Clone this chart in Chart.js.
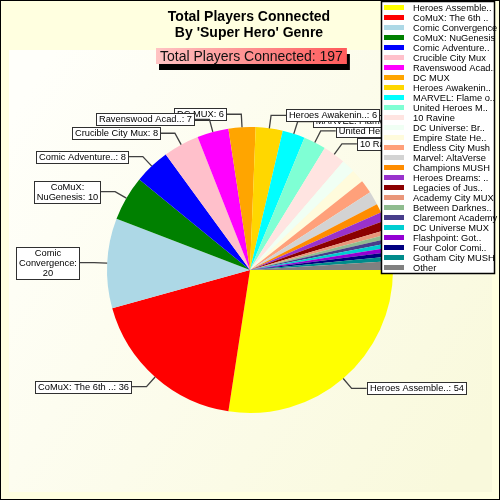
<!DOCTYPE html>
<html><head><meta charset="utf-8">
<script src="https://cdn.jsdelivr.net/npm/chart.js@4/dist/chart.umd.min.js"></script>
<style>html,body{margin:0;padding:0;background:#fff}canvas{display:block}</style>
</head><body>
<canvas id="c" width="500" height="500"></canvas>
<script>
// ---- data ----
const categories = [
  "Heroes Assemble..", "CoMuX: The 6th ..", "Comic Convergence", "CoMuX: NuGenesis",
  "Comic Adventure..", "Crucible City Mux", "Ravenswood Acad..", "DC MUX",
  "Heroes Awakenin..", "MARVEL: Flame o..", "United Heroes M..", "10 Ravine",
  "DC Universe: Br..", "Empire State He..", "Endless City Mush", "Marvel: AltaVerse",
  "Champions MUSH", "Heroes Dreams: ..", "Legacies of Jus..", "Academy City MUX",
  "Between Darknes..", "Claremont Academy", "DC Universe MUX", "Flashpoint: Got..",
  "Four Color Comi..", "Gotham City MUSH", "Other"
];
const playerCounts = [54, 36, 20, 10, 8, 8, 7, 6, 6, 5, 5, 5, 3, 3, 3, 3, 2, 2, 2, 1, 1, 1, 1, 1, 1, 1, 2];
const titleLines = ["Total Players Connected", "By 'Super Hero' Genre"];
const subtitlePrefix = "Total Players Connected: ";
const labelMinValue = 5;

// ---- styles ----
const palette = [
  "#FFFF00", "#FF0000", "#ADD8E6", "#008000", "#0000FF", "#FFC0CB", "#FF00FF", "#FFA500",
  "#FFD700", "#00FFFF", "#7FFFD4", "#FFE4E1", "#F0FFF4", "#FFFBDC", "#FFA07A", "#D3D3D3",
  "#FF8C00", "#9932CC", "#8B0000", "#E9967A", "#8FBC8F", "#483D8B", "#00CED1", "#9400D3",
  "#000080", "#008B8B", "#808080"
];

// font detection: prefer a narrow sans, else scale regular
function fontAvailable(name){
  const c = document.createElement('canvas').getContext('2d');
  const s = "Comic Convergence 0123456789 MWmw";
  c.font = '20px monospace'; const a = c.measureText(s).width;
  c.font = '20px "' + name + '", monospace'; const b = c.measureText(s).width;
  return Math.abs(a - b) > 0.5;
}
const NARROW = fontAvailable("Liberation Sans Narrow");
const SMALL_FONT = NARROW ? '11px "Liberation Sans Narrow"' : '9.3px "Liberation Sans", Arial, sans-serif';

const total = playerCounts.reduce((a, b) => a + b, 0);

const backgroundPlugin = {
  id: 'bg',
  beforeDraw(chart){
    const ctx = chart.ctx;
    ctx.save();
    ctx.fillStyle = '#000';
    ctx.fillRect(0, 0, 500, 500);
    ctx.fillStyle = '#FFFFE0';
    ctx.fillRect(1, 1, 498, 498);
    const g = ctx.createLinearGradient(9, 120, 492, 420);
    g.addColorStop(0, '#FFFFFA');
    g.addColorStop(1, '#F9F9DC');
    ctx.fillStyle = g;
    ctx.fillRect(9, 50, 483, 442);
    ctx.restore();
  }
};

const titlePlugin = {
  id: 'titles',
  afterDatasetsDraw(chart){
    const ctx = chart.ctx;
    ctx.save();
    ctx.fillStyle = '#000';
    ctx.textAlign = 'center';
    ctx.textBaseline = 'middle';
    ctx.font = 'bold 14px "Liberation Sans", Arial, sans-serif';
    ctx.fillText(titleLines[0], 249, 17);
    ctx.fillText(titleLines[1], 249, 33);
    // subtitle box
    ctx.font = '14px "Liberation Sans", Arial, sans-serif';
    const txt = subtitlePrefix + total;
    const w = ctx.measureText(txt).width + 8;
    const h = 16;
    const bx = Math.round(251 - w / 2), by = 48;
    ctx.fillStyle = '#000';
    ctx.fillRect(bx + 3, by + 6, w, h);
    const g = ctx.createLinearGradient(bx, 0, bx + w, 0);
    g.addColorStop(0, '#FFC4C4');
    g.addColorStop(1, '#FF5A5A');
    ctx.fillStyle = g;
    ctx.fillRect(bx, by, w, h);
    ctx.fillStyle = '#111';
    ctx.fillText(txt, bx + w / 2, by + h / 2 + 1);
    ctx.restore();
  }
};

function wrapText(ctx, text, maxW){
  if (ctx.measureText(text).width <= maxW) return [text];
  const words = text.split(' ');
  const lines = [];
  let cur = '';
  for (const wd of words){
    const t = cur ? cur + ' ' + wd : wd;
    if (ctx.measureText(t).width <= maxW || !cur) cur = t;
    else { lines.push(cur); cur = wd; }
  }
  if (cur) lines.push(cur);
  return lines;
}

const sliceLabelPlugin = {
  id: 'sliceLabels',
  afterDatasetsDraw(chart){
    const ctx = chart.ctx;
    const meta = chart.getDatasetMeta(0);
    const vals = chart.data.datasets[0].data;
    ctx.save();
    ctx.font = SMALL_FONT;
    const items = [];
    meta.data.forEach((arc, i) => {
      if (vals[i] < labelMinValue) return;
      const p = arc.getProps(['x', 'y', 'startAngle', 'endAngle', 'outerRadius'], true);
      const mid = (p.startAngle + p.endAngle) / 2;
      const c = Math.cos(mid), s = Math.sin(mid);
      const p0 = {x: p.x + c * p.outerRadius, y: p.y + s * p.outerRadius};
      const p1 = {x: p.x + c * (p.outerRadius + 13), y: p.y + s * (p.outerRadius + 13)};
      const right = c >= 0;
      const p2 = {x: p1.x + (right ? 15 : -15), y: p1.y};
      const text = chart.data.labels[i] + ': ' + vals[i];
      const avail = right ? (chart.width - 20 - p2.x) : (p2.x - 20);
      const lines = wrapText(ctx, text, avail - 4);
      const tw = Math.max(...lines.map(l => ctx.measureText(l).width));
      const bw = Math.round(tw + 5), bh = lines.length * 10 + 2;
      const bx = Math.round(right ? p2.x : p2.x - bw);
      const by = Math.round(p2.y - bh / 2);
      items.push({p0, p1, p2, lines, bx, by, bw, bh});
    });
    for (let k = items.length - 1; k >= 0; k--){
      const it = items[k];
      ctx.strokeStyle = '#404040';
      ctx.lineWidth = 1.3;
      ctx.beginPath();
      ctx.moveTo(it.p0.x, it.p0.y);
      ctx.lineTo(it.p1.x, it.p1.y);
      ctx.lineTo(it.p2.x, it.p2.y);
      ctx.stroke();
      ctx.fillStyle = '#FFFFFF';
      ctx.fillRect(it.bx, it.by, it.bw, it.bh);
      ctx.lineWidth = 1;
      ctx.strokeStyle = '#303030';
      ctx.strokeRect(it.bx + 0.5, it.by + 0.5, it.bw, it.bh);
      ctx.fillStyle = '#000';
      ctx.textAlign = 'center';
      ctx.textBaseline = 'middle';
      it.lines.forEach((l, j) => {
        ctx.fillText(l, it.bx + it.bw / 2 + 0.5, it.by + 6 + j * 10 + 0.5);
      });
    }
    ctx.restore();
  }
};

const legendPlugin = {
  id: 'customLegend',
  afterDraw(chart){
    const ctx = chart.ctx;
    const labels = chart.data.labels;
    const colors = chart.data.datasets[0].backgroundColor;
    ctx.save();
    const lx = 381, ly = 1, lw = 113, lh = 272;
    ctx.fillStyle = '#FFFFFF';
    ctx.fillRect(lx, ly, lw, lh);
    ctx.strokeStyle = '#000';
    ctx.lineWidth = 1.5;
    ctx.strokeRect(lx + 0.5, ly + 0.5, lw, lh);
    ctx.font = SMALL_FONT;
    ctx.textAlign = 'left';
    ctx.textBaseline = 'middle';
    labels.forEach((lab, i) => {
      const cy = 7.5 + i * 10;
      ctx.fillStyle = colors[i];
      ctx.fillRect(384, Math.round(cy - 2.5), 20, 5);
      ctx.fillStyle = '#000';
      ctx.fillText(lab, 413, cy + 0.5);
    });
    ctx.restore();
  }
};

new Chart(document.getElementById('c'), {
  type: 'pie',
  data: {
    labels: categories,
    datasets: [{
      data: playerCounts,
      backgroundColor: palette,
      borderWidth: 0
    }]
  },
  options: {
    responsive: false,
    animation: false,
    devicePixelRatio: 1,
    rotation: 90,
    layout: {padding: {left: 107, right: 107, top: 127, bottom: 87}},
    plugins: {legend: {display: false}, tooltip: {enabled: false}, title: {display: false}}
  },
  plugins: [backgroundPlugin, sliceLabelPlugin, titlePlugin, legendPlugin]
});
</script>
</body></html>
